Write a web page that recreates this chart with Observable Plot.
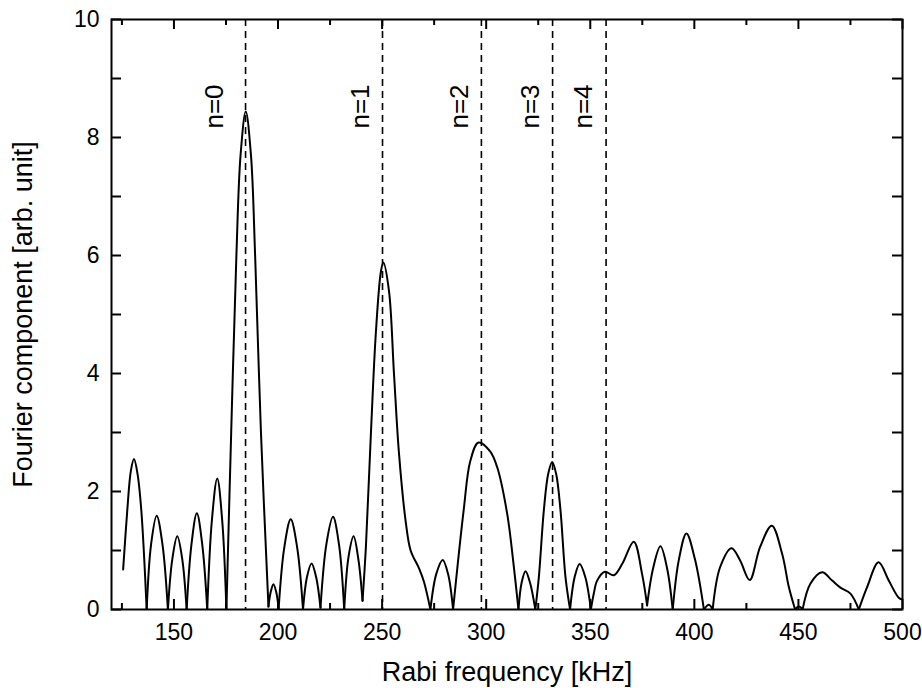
<!DOCTYPE html>
<html><head><meta charset="utf-8">
<script src="https://cdn.jsdelivr.net/npm/d3@7"></script>
<script src="https://cdn.jsdelivr.net/npm/@observablehq/plot@0.6"></script>
<style>html,body{margin:0;padding:0;background:#fff}</style>
</head><body><div id="chart"></div>
<script>
// Spectrum, split into lobes (each lobe runs zero to zero)
const lobe = [
 1,1,1,1,1,1,1,
 2,2,2,2,2,
 3,3,3,3,3,
 4,4,4,4,4,
 5,5,5,5,5,
 6,6,6,6,6,6,6,6,6,
 7,7,7,7,7,
 8,8,8,8,8,
 9,9,9,9,9,
 10,10,10,10,10,
 11,11,11,11,11,
 12,12,12,12,12,12,12,12,12,12,12,12,12,12,
 13,13,13,13,13,
 14,14,14,14,14,14,14,14,14,
 15,15,15,15,15,
 16,16,16,16,16,16,16,16,16,
 17,17,17,17,17,
 18,18,18,18,18,18,18,18,18,
 19,19,19,19,19,
 20,20,20,20,20,
 21,21,21,
 22,22,22,22,22,22,22,22,22,22,
 23,23,23,
 24,24,24,24,24,24,24,
 25,25,25,25,25,25
];
const freq = [
 125.6,127.6,129.3,130.8,132.5,134.3,136.9,
 136.9,139.0,141.7,144.5,147.1,
 147.1,149.2,151.6,154.0,156.1,
 156.1,158.4,161.0,163.6,166.0,
 166.0,168.2,170.8,173.2,175.2,
 175.2,177.5,180.0,182.0,184.5,187.0,189.0,191.8,195.4,
 195.4,196.5,197.8,199.1,200.3,
 200.3,203.0,206.1,209.2,212.0,
 212.0,213.9,216.1,218.3,220.4,
 220.4,223.2,226.4,229.3,231.8,
 231.8,233.9,236.3,238.6,240.6,
 240.6,242.2,244.6,247.0,249.4,250.6,253.3,255.7,258.1,261.3,263.7,267.7,270.1,273.2,
 273.2,276.0,279.1,281.7,284.1,
 284.1,289.2,292.4,296.3,301.9,305.3,310.1,313.3,315.5,
 315.5,317.0,318.9,321.1,323.6,
 323.6,325.3,327.7,329.8,331.7,333.6,335.7,338.1,340.3,
 340.3,342.5,344.9,347.6,350.3,
 350.3,351.7,353.3,357.0,361.3,365.3,370.9,374.9,377.3,
 377.3,380.2,383.7,386.9,389.6,
 389.6,392.6,396.2,400.3,404.6,
 404.6,407.0,408.8,
 408.8,412.4,417.9,422.0,426.6,431.6,437.2,442.2,445.4,448.4,
 448.4,450.2,452.0,
 452.0,455.8,461.4,466.2,470.2,475.0,479.0,
 479.0,483.0,488.5,493.4,498.2,500.0
];
const amp = [
 0.68,1.69,2.35,2.55,2.30,1.69,0,
 0,1.10,1.59,1.10,0,
 0,0.85,1.24,0.85,0,
 0,1.10,1.63,1.10,0,
 0,1.50,2.22,1.50,0,
 0,3.0,6.0,7.7,8.44,7.7,6.0,3.0,0.05,
 0.05,0.30,0.43,0.30,0.02,
 0.02,1.05,1.53,1.05,0,
 0,0.55,0.78,0.55,0.03,
 0.03,1.10,1.57,1.10,0,
 0,0.90,1.24,0.85,0.15,
 0.15,1.05,2.97,4.69,5.72,5.88,5.40,4.0,2.65,1.50,1.0,0.70,0.47,0,
 0,0.60,0.84,0.60,0,
 0,1.69,2.52,2.83,2.68,2.41,1.62,0.72,0,
 0,0.45,0.65,0.45,0,
 0,0.55,1.68,2.30,2.50,2.30,1.68,0.55,0,
 0,0.55,0.77,0.55,0,
 0,0.27,0.49,0.64,0.58,0.77,1.15,0.60,0.07,
 0.07,0.70,1.07,0.70,0,
 0,0.85,1.29,0.85,0,
 0,0.08,0,
 0,0.72,1.04,0.83,0.50,1.06,1.42,0.94,0.38,0,
 0,0.05,0,
 0,0.44,0.63,0.49,0.37,0.27,0,
 0,0.38,0.80,0.49,0.20,0.17
];

// Motional sidebands
const modeLabel = ["n=0","n=1","n=2","n=3","n=4"];
const modeFreq = [184.4, 250.2, 297.7, 331.9, 357.6];

// Ticks
const xMajor = [150,200,250,300,350,400,450,500];
const xMinor = [125,175,225,275,325,375,425,475];
const yTicks = [0,1,2,3,4,5,6,7,8,9,10];
const yLabels = [0,2,4,6,8,10];

const xTitle = "Rabi frequency [kHz]";
const yTitle = "Fourier component [arb. unit]";

const spectrum = freq.map((f, i) => ({f, a: amp[i], lobe: lobe[i]}));
const modes = modeFreq.map((f, i) => ({f, label: modeLabel[i]}));

const W = 922, H = 688, mL = 111, mR = 20, mT = 19, mB = 79;
const pw = W - mL - mR, ph = H - mT - mB;

const chart = Plot.plot({
  width: W, height: H,
  marginLeft: mL, marginRight: mR, marginTop: mT, marginBottom: mB,
  style: {fontFamily: "'Liberation Sans', Arial, Helvetica, sans-serif", fontSize: "23px", background: "#fff", color: "#000"},
  x: {domain: [120, 500]},
  y: {domain: [0, 10]},
  marks: [
    Plot.ruleX(modes, {x: "f", stroke: "#000", strokeWidth: 1.6, strokeDasharray: "7,5"}),
    Plot.line(spectrum, {x: "f", y: "a", z: "lobe", curve: "catmull-rom", stroke: "#000", strokeWidth: 2, clip: true}),
    // inward ticks, all four sides
    Plot.ruleX(xMajor, {x: d => d, insetTop: ph - 10, strokeWidth: 2}),
    Plot.ruleX(xMajor, {x: d => d, insetBottom: ph - 10, strokeWidth: 2}),
    Plot.ruleX(xMinor, {x: d => d, insetTop: ph - 6, strokeWidth: 2}),
    Plot.ruleX(xMinor, {x: d => d, insetBottom: ph - 6, strokeWidth: 2}),
    Plot.ruleY(yTicks, {y: d => d, insetRight: pw - 10, strokeWidth: 2}),
    Plot.ruleY(yTicks, {y: d => d, insetLeft: pw - 10, strokeWidth: 2}),
    Plot.frame({stroke: "#000", strokeWidth: 2}),
    Plot.axisX(xMajor, {tickSize: 0, tickPadding: 14, label: null, tickFormat: d3.format("d")}),
    Plot.axisY(yLabels, {tickSize: 0, tickPadding: 12, label: null, tickFormat: d3.format("d")}),
    Plot.text([xTitle], {frameAnchor: "bottom", lineAnchor: "middle", textAnchor: "middle", dy: 63, fontSize: 27, text: d => d}),
    Plot.text([yTitle], {frameAnchor: "left", lineAnchor: "middle", textAnchor: "middle", dx: -88, rotate: -90, fontSize: 27, text: d => d}),
    Plot.text(modes.filter(d => d.label === "n=0"), {x: "f", text: "label", frameAnchor: "top", lineAnchor: "middle", textAnchor: "middle", dy: 87, dx: -31, rotate: -90, fontSize: 26}),
    Plot.text(modes.filter(d => d.label !== "n=0"), {x: "f", text: "label", frameAnchor: "top", lineAnchor: "middle", textAnchor: "middle", dy: 87, dx: -22, rotate: -90, fontSize: 26})
  ]
});
document.getElementById("chart").appendChild(chart);
</script>
</body></html>
